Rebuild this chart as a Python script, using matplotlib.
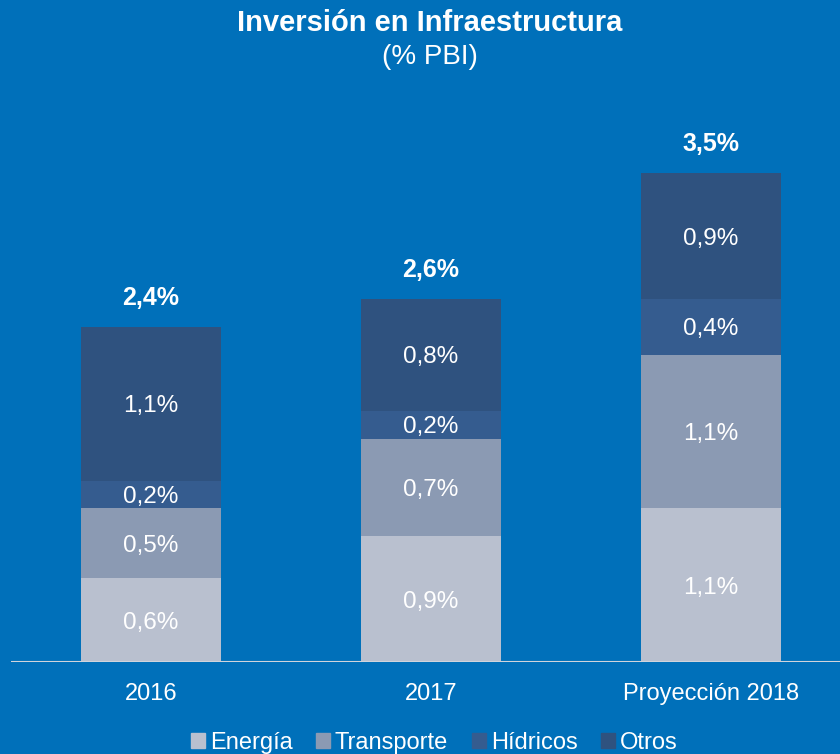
import numpy as np
import matplotlib.pyplot as plt
from matplotlib.patches import Patch

plt.rcParams['font.family'] = ['Liberation Sans', 'DejaVu Sans']

categories = ['2016', '2017', 'Proyección 2018']
series = ['Energía', 'Transporte', 'Hídricos', 'Otros']
energia = [0.6, 0.9, 1.1]
transporte = [0.5, 0.7, 1.1]
hidricos = [0.2, 0.2, 0.4]
otros = [1.1, 0.8, 0.9]
totals = [2.4, 2.6, 3.5]

colors = ['#B9C0CF', '#8B9AB3', '#355C8F', '#2F527F']
bg = '#0070BA'

fig = plt.figure(figsize=(8.4, 7.54), dpi=100, facecolor=bg)
axe = fig.add_axes([11 / 840, 92 / 754, 840 / 840, 558.4 / 754])
axe.set_facecolor(bg)

x = np.arange(len(categories))
bottom = np.zeros(len(categories))
for name, vals, col in zip(series, [energia, transporte, hidricos, otros], colors):
    vals = np.array(vals)
    axe.bar(x, vals, width=0.5, bottom=bottom, color=col, label=name, zorder=2)
    for xi, b, v in zip(x, bottom, vals):
        axe.text(xi, b + v / 2, f'{v:.1f}%'.replace('.', ','), ha='center',
                 va='center_baseline', color='white', fontsize=17.5)
    bottom += vals

for xi, t in zip(x, totals):
    axe.text(xi, t + 0.21, f'{t:.1f}%'.replace('.', ','), ha='center', va='center',
             color='white', fontsize=18, fontweight='bold')

axe.set_xlim(-0.5, 2.5)
axe.set_ylim(0, 4)
axe.axhline(0, color='#D0D4DC', lw=1.5, zorder=3)
for s in axe.spines.values():
    s.set_visible(False)
axe.set_yticks([])
axe.set_xticks(x)
axe.set_xticklabels(categories, color='white', fontsize=17)
axe.tick_params(axis='x', length=0, pad=15)

fig.text(0.512, 0.969, 'Inversión en Infraestructura', ha='center', va='center',
         color='white', fontsize=21, fontweight='bold')
fig.text(0.512, 0.925, '(% PBI)', ha='center', va='center', color='white', fontsize=20)

handles = [Patch(color=c, label=n) for c, n in zip(colors, series)]
fig.legend(handles=handles, loc='center', bbox_to_anchor=(0.517, 0.015), ncol=4,
           frameon=False, fontsize=17, labelcolor='white', handlelength=0.6,
           handleheight=0.6, handletextpad=0.2, columnspacing=1.0, borderpad=0)

fig.savefig('out.png', dpi=100, facecolor=bg)
